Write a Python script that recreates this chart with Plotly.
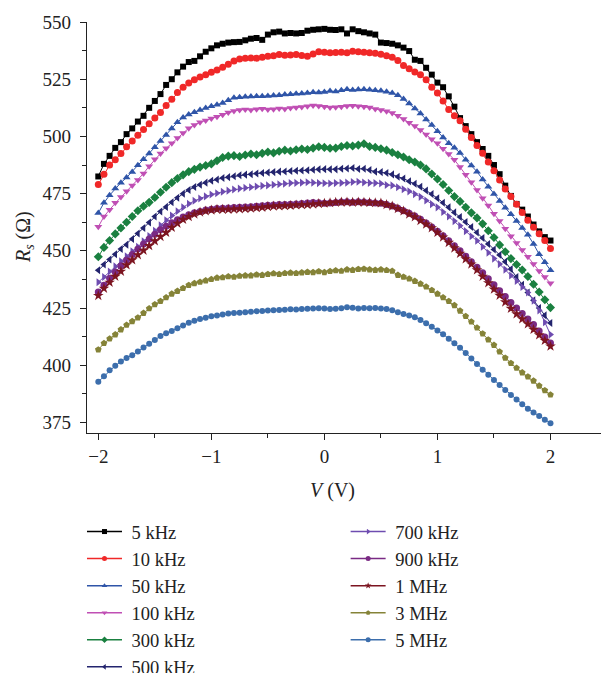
import plotly.graph_objects as go

voltage = [-2.0, -1.95, -1.9, -1.85, -1.8, -1.75, -1.7, -1.65, -1.6, -1.55,
           -1.5, -1.45, -1.4, -1.35, -1.3, -1.25, -1.2, -1.15, -1.1, -1.05,
           -1.0, -0.95, -0.9, -0.85, -0.8, -0.75, -0.7, -0.65, -0.6, -0.55,
           -0.5, -0.45, -0.4, -0.35, -0.3, -0.25, -0.2, -0.15, -0.1, -0.05,
           0.0, 0.05, 0.1, 0.15, 0.2, 0.25, 0.3, 0.35, 0.4, 0.45,
           0.5, 0.55, 0.6, 0.65, 0.7, 0.75, 0.8, 0.85, 0.9, 0.95,
           1.0, 1.05, 1.1, 1.15, 1.2, 1.25, 1.3, 1.35, 1.4, 1.45,
           1.5, 1.55, 1.6, 1.65, 1.7, 1.75, 1.8, 1.85, 1.9, 1.95, 2.0]

rs_5khz = [482.5, 488.0, 491.5, 495.0, 497.5, 501.0, 503.5, 506.5, 509.0, 512.5,
           515.5, 518.5, 522.5, 525.0, 528.0, 530.5, 532.5, 533.0, 535.0, 537.0,
           538.5, 539.8, 540.5, 541.0, 541.2, 541.3, 542.0, 542.7, 543.0, 542.2,
           544.5, 545.5, 545.8, 545.0, 545.2, 545.0, 545.2, 546.2, 546.6, 546.8,
           547.0, 546.6, 546.5, 546.8, 545.0, 546.8, 546.0, 545.5, 545.0, 544.5,
           541.0, 540.8, 540.5, 539.8, 538.8, 537.3, 533.5, 533.0, 530.0, 527.0,
           523.5, 521.5, 517.5, 513.0, 508.0, 504.5, 501.0, 497.5, 494.5, 491.5,
           487.5, 483.5, 478.5, 474.0, 470.5, 468.0, 465.0, 461.5, 458.5, 456.0, 454.5]

rs_10khz = [479.0, 483.5, 487.5, 489.8, 492.5, 495.5, 498.0, 500.5, 503.0, 505.5,
            508.0, 510.5, 513.5, 516.2, 519.2, 521.5, 523.3, 524.8, 526.0, 527.0,
            528.0, 529.0, 530.2, 531.5, 533.0, 533.8, 534.2, 534.3, 534.2, 534.6,
            535.0, 535.3, 535.8, 535.5, 535.6, 535.8, 535.4, 535.0, 536.0, 537.0,
            536.8, 536.6, 536.7, 536.8, 536.6, 537.2, 537.0, 536.8, 536.6, 536.3,
            535.9, 535.2, 534.6, 533.2, 531.0, 529.6, 528.2, 527.0, 524.8, 521.5,
            519.0, 515.5, 511.8, 509.0, 506.8, 503.1, 499.5, 496.0, 492.6, 488.8,
            485.0, 481.0, 477.0, 473.8, 470.4, 466.8, 463.4, 460.3, 457.5, 454.5, 451.0]

rs_50khz = [466.5, 471.0, 474.3, 477.2, 479.8, 482.0, 484.5, 487.4, 490.0, 492.5,
            495.3, 498.0, 500.6, 503.5, 506.2, 508.3, 509.6, 510.6, 511.5, 512.4,
            513.2, 513.8, 514.6, 515.8, 516.9, 517.1, 517.3, 517.4, 517.5, 517.6,
            517.7, 517.9, 518.0, 518.3, 518.4, 518.6, 518.8, 519.0, 519.3, 519.2,
            519.4, 519.8, 519.6, 520.2, 520.6, 520.3, 520.5, 520.6, 520.4, 520.2,
            520.0, 519.5, 519.0, 518.0, 516.3, 514.4, 512.2, 510.0, 507.4, 505.0,
            502.3, 499.5, 497.0, 495.0, 492.8, 489.8, 487.3, 484.6, 481.2, 478.0,
            474.8, 471.8, 468.8, 466.0, 463.0, 460.0, 457.0, 453.0, 448.5, 445.0, 441.5]

rs_100khz = [460.5, 465.0, 468.0, 471.0, 473.5, 476.0, 478.5, 481.0, 483.8, 487.0,
             490.0, 492.5, 494.8, 497.0, 499.3, 501.5, 503.6, 505.0, 506.2, 507.0,
             507.8, 508.6, 509.5, 510.4, 511.1, 511.6, 511.8, 511.6, 511.9, 512.1,
             511.8, 511.9, 512.2, 512.0, 512.4, 512.6, 512.9, 513.2, 513.5, 513.3,
             513.0, 512.6, 512.8, 513.0, 513.3, 513.4, 513.2, 513.0, 512.6, 512.0,
             511.6, 511.0, 510.2, 509.0, 507.6, 506.0, 504.5, 502.8, 500.8, 498.8,
             497.0, 494.6, 492.3, 489.8, 486.6, 483.3, 480.0, 476.6, 473.0, 469.8,
             466.2, 463.0, 459.6, 456.4, 453.4, 450.4, 447.4, 444.2, 441.2, 438.6, 435.8]

rs_300khz = [447.4, 451.5, 454.5, 457.4, 460.0, 462.5, 465.0, 467.5, 469.5, 471.2,
             473.3, 475.6, 477.8, 479.8, 481.6, 483.2, 484.6, 485.6, 486.6, 487.3,
             488.0, 489.4, 490.8, 491.4, 491.6, 491.2, 491.9, 492.3, 492.0, 492.6,
             493.2, 492.8, 493.5, 494.0, 493.6, 494.2, 494.5, 494.3, 494.9, 495.5,
             495.2, 494.8, 494.9, 495.6, 496.0, 495.8, 496.2, 496.8, 495.6, 495.2,
             494.6, 494.0, 493.0, 492.0, 491.0, 489.8, 488.8, 487.5, 485.8, 483.6,
             481.4, 479.0, 476.4, 473.7, 471.6, 469.0, 466.6, 464.4, 461.8, 458.8,
             455.8, 452.6, 449.6, 446.6, 444.0, 441.6, 438.8, 435.4, 432.0, 428.6, 425.2]

rs_500khz = [441.5, 444.0, 446.2, 448.5, 450.8, 452.7, 455.2, 457.6, 460.0, 462.4,
             465.0, 467.2, 469.2, 471.2, 473.2, 475.0, 476.6, 477.9, 478.9, 479.8,
             480.6, 481.2, 481.8, 482.2, 482.6, 483.0, 483.3, 483.5, 483.8, 484.0,
             484.2, 484.4, 484.6, 484.7, 484.9, 485.0, 485.1, 485.2, 485.4, 485.6,
             485.7, 485.6, 485.6, 485.9, 486.0, 486.2, 485.8, 485.9, 485.3, 484.6,
             484.4, 484.0, 483.4, 482.4, 481.6, 480.4, 479.3, 478.0, 476.4, 474.8,
             473.0, 471.0, 469.0, 466.8, 464.8, 462.6, 460.4, 458.0, 455.6, 453.0,
             450.6, 448.2, 445.2, 442.0, 438.6, 435.2, 431.8, 428.4, 425.0, 421.8, 418.5]

rs_700khz = [436.3, 438.6, 441.0, 443.2, 445.4, 447.6, 449.8, 451.8, 454.2, 456.5,
             458.8, 461.2, 463.4, 465.4, 467.3, 469.0, 470.6, 471.9, 472.9, 473.8,
             474.6, 475.2, 475.8, 476.3, 476.8, 477.2, 477.5, 477.8, 478.1, 478.4,
             478.6, 478.9, 479.1, 479.3, 479.6, 479.7, 479.8, 480.0, 479.8, 479.6,
             479.5, 479.4, 479.6, 479.7, 479.8, 480.1, 480.2, 479.9, 479.7, 479.6,
             479.4, 478.8, 478.6, 477.8, 476.9, 476.0, 474.8, 473.6, 472.0, 470.4,
             469.0, 467.0, 465.0, 463.0, 461.0, 458.6, 456.4, 454.4, 451.8, 449.2,
             446.6, 444.2, 441.8, 439.2, 436.8, 434.2, 431.8, 428.2, 424.0, 418.8, 413.4]

rs_900khz = [432.0, 435.0, 438.0, 440.8, 443.5, 446.0, 448.4, 450.8, 453.0, 455.2,
             457.2, 459.2, 460.8, 462.3, 463.6, 464.8, 465.8, 466.6, 467.2, 467.8,
             468.2, 468.5, 468.6, 468.7, 468.9, 469.1, 469.2, 469.3, 469.5, 469.7,
             469.9, 470.0, 470.2, 470.3, 470.4, 470.5, 470.7, 470.9, 471.1, 471.0,
             470.8, 470.9, 471.1, 471.3, 471.4, 471.2, 471.4, 471.3, 471.1, 470.9,
             470.8, 470.2, 469.6, 468.6, 467.5, 466.4, 465.2, 463.8, 462.2, 460.4,
             458.6, 456.6, 454.4, 452.2, 450.0, 447.6, 445.2, 442.8, 440.4, 437.8,
             435.2, 432.6, 430.0, 427.4, 425.0, 422.6, 420.2, 417.8, 415.0, 412.4, 409.7]

rs_1mhz = [430.4, 433.6, 436.2, 438.8, 441.0, 443.8, 446.0, 448.2, 450.2, 452.2,
           454.3, 456.2, 458.0, 460.2, 462.0, 463.7, 464.9, 466.0, 466.9, 467.4,
           467.8, 468.1, 468.1, 468.1, 468.2, 468.3, 468.4, 468.6, 468.8, 469.0,
           469.3, 469.5, 469.6, 469.7, 469.8, 470.0, 470.1, 470.2, 470.4, 470.6,
           470.8, 471.0, 471.2, 471.3, 471.3, 471.2, 471.3, 471.2, 471.1, 471.0,
           470.9, 470.2, 469.5, 468.4, 467.4, 466.0, 464.8, 463.2, 461.6, 460.0,
           458.0, 456.0, 453.6, 451.2, 448.8, 446.4, 444.2, 441.6, 438.8, 436.0,
           433.2, 430.5, 427.6, 424.8, 422.4, 420.2, 418.0, 415.6, 413.2, 410.8, 408.3]

rs_3mhz = [406.8, 409.6, 411.6, 413.4, 415.6, 417.6, 419.2, 420.8, 422.8, 424.8,
           426.6, 428.0, 429.6, 431.2, 432.4, 433.7, 435.0, 435.8, 436.4, 437.0,
           437.6, 438.2, 438.4, 438.8, 438.6, 439.0, 439.2, 439.2, 439.6, 439.4,
           439.8, 440.1, 439.8, 440.2, 440.4, 440.2, 440.5, 440.7, 440.6, 441.0,
           440.6, 441.1, 441.4, 441.2, 441.8, 441.6, 442.0, 442.1, 441.8, 441.6,
           441.8, 441.5, 441.2, 439.4, 438.6, 437.8, 436.8, 435.6, 434.3, 432.8,
           431.2, 429.6, 428.0, 426.2, 423.8, 421.4, 419.0, 416.4, 413.8, 411.2,
           408.8, 405.9, 403.2, 400.9, 398.8, 396.8, 395.0, 393.2, 391.0, 389.0, 387.1]

rs_5mhz = [392.8, 395.2, 397.8, 399.8, 401.6, 403.2, 404.4, 406.0, 407.8, 409.4,
           411.0, 412.8, 414.0, 415.0, 416.2, 417.4, 418.6, 419.4, 420.2, 420.8,
           421.4, 421.8, 422.2, 422.6, 422.8, 423.0, 423.2, 423.4, 423.6, 423.7,
           423.9, 424.0, 424.1, 424.3, 424.5, 424.4, 424.6, 424.7, 424.8, 424.9,
           424.8, 424.6, 424.7, 424.9, 425.3, 425.1, 424.8, 425.0, 424.9, 425.0,
           424.8, 424.6, 424.0, 423.2, 422.4, 421.8, 421.0, 419.8, 418.4, 416.8,
           415.2, 413.6, 411.6, 409.6, 407.6, 405.4, 403.0, 400.6, 398.0, 395.8,
           393.6, 391.4, 389.2, 387.0, 385.0, 383.0, 381.0, 379.4, 377.8, 376.2, 374.7]

series_names = ["5 kHz", "10 kHz", "50 kHz", "100 kHz", "300 kHz", "500 kHz",
                "700 kHz", "900 kHz", "1 MHz", "3 MHz", "5 MHz"]
series_values = [rs_5khz, rs_10khz, rs_50khz, rs_100khz, rs_300khz, rs_500khz,
                 rs_700khz, rs_900khz, rs_1mhz, rs_3mhz, rs_5mhz]

colors = ["#000000", "#f02828", "#2f55a8", "#c04fb4", "#1a8040", "#23246e",
          "#6e4cb0", "#7a2a84", "#7c1420", "#858338", "#3c6eac"]
symbols = ["square", "circle", "triangle-up", "triangle-down", "diamond",
           "triangle-left", "triangle-right", "circle", "star", "pentagon", "circle"]
sizes = [6, 7, 7, 7, 7, 7, 7, 7, 8, 7, 6]

FONT = "Liberation Serif, Times New Roman, serif"
NB = "\u00a0"

fig = go.Figure()
for i, (name, vals) in enumerate(zip(series_names, series_values)):
    fig.add_trace(go.Scatter(
        x=voltage, y=vals, name=name, mode="lines+markers", showlegend=False,
        line=dict(color=colors[i], width=1),
        marker=dict(symbol=symbols[i], size=sizes[i], color=colors[i],
                    line=dict(width=0)),
    ))
# legend-only entries with small symbols, as in the original key
for i, name in enumerate(series_names):
    fig.add_trace(go.Scatter(
        x=[None], y=[None], name=NB + name, mode="lines+markers",
        line=dict(color=colors[i], width=1.5),
        marker=dict(symbol=symbols[i], size=5, color=colors[i], line=dict(width=0)),
        legend="legend" if i < 6 else "legend2", hoverinfo="skip",
    ))

axis_common = dict(
    showgrid=False, zeroline=False, showline=True, linecolor="#222",
    linewidth=1.2, ticks="outside", ticklen=6, tickwidth=1.2, tickcolor="#222",
    tickfont=dict(family=FONT, size=19, color="#222"),
)

legend_common = dict(
    xref="container", yref="container",
    xanchor="left", yanchor="top", itemwidth=35,
    font=dict(family=FONT, size=18.5, color="#222"),
    bgcolor="rgba(0,0,0,0)", tracegroupgap=0,
)

fig.update_layout(
    width=609, height=673, autosize=False,
    margin=dict(l=79, r=10, t=14, b=248, autoexpand=False),
    plot_bgcolor="white", paper_bgcolor="white",
    font=dict(family=FONT, color="#222"),
    xaxis=dict(range=[-2.1, 2.5], dtick=1, tick0=0,
               minor=dict(dtick=0.5, ticklen=4, tickwidth=1.2, tickcolor="#222", ticks="outside"),
               **axis_common),
    yaxis=dict(range=[370.4, 550], dtick=25, tick0=0, ticklabelstandoff=5,
               minor=dict(dtick=12.5, ticklen=4, tickwidth=1.2, tickcolor="#222", ticks="outside"),
               **axis_common),
    legend=dict(x=0.1215, y=0.2496, **legend_common),
    legend2=dict(x=0.5544, y=0.2496, **legend_common),
    annotations=[
        dict(text="<i>V</i> (V)", xref="x", yref="paper", x=0.07, y=-0.139,
             xanchor="center", yanchor="middle",
             showarrow=False, font=dict(family=FONT, size=20, color="#222")),
        dict(text="<i>R</i><sub><i>s</i></sub> (Ω)", xref="paper", yref="paper",
             x=-0.119, y=0.477, xanchor="center", yanchor="middle",
             textangle=-90, showarrow=False,
             font=dict(family=FONT, size=20, color="#222")),
    ],
)

fig.write_html("out.html")
